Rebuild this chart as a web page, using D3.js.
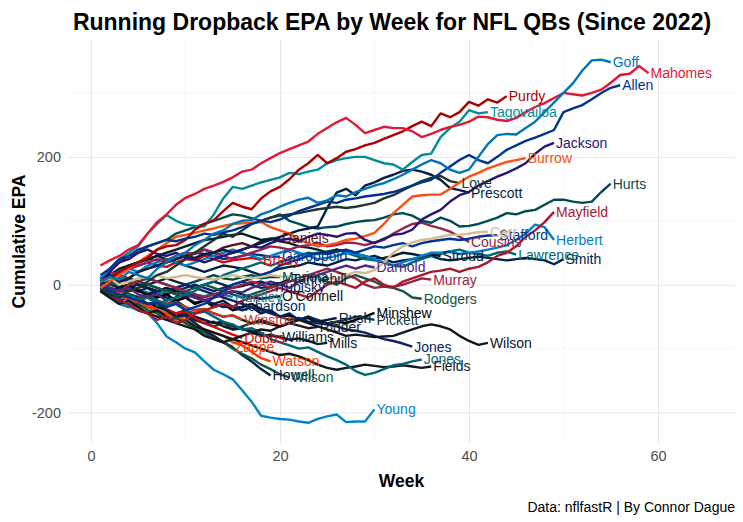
<!DOCTYPE html>
<html>
  <head>
    <title>Running Dropback EPA</title>
    <meta charset="utf-8" />
    <style>
      body { margin: 0; background: #fff; }
      text { font-family: "Liberation Sans", Arial, sans-serif; }
    </style>
  </head>
  <body>
    <div id="chart"></div>
    <script src="https://d3js.org/d3.v7.min.js"></script>
    <script type="text/javascript">
        // cumulative dropback EPA, one value per game played
        const mahomes = [30,38,45,55,62,80,98,110,125,136,142,150,155,161,168,177,180,190,198,206,212,218,224,236,245,254,261,250,237,242,247,245,245,240,231,236,242,247,250,255,263,262,258,256,261,270,278,284,292,300,298,296,300,305,316,328,330,342,331];
        const goff = [5,12,8,20,15,10,25,35,45,50,62,70,80,85,95,100,101,110,115,122,128,133,136,128,132,140,138,145,150,155,159,165,172,180,188,195,190,180,175,180,200,220,234,236,235,245,255,270,285,300,315,335,351,352,348];
        const allen = [15,25,40,45,55,60,65,70,68,72,75,80,78,82,85,90,95,100,98,102,108,115,120,125,130,128,133,135,138,140,142,145,150,155,160,164,175,185,195,203,195,190,200,211,218,225,230,236,242,270,276,281,290,300,308,312];
        const purdy = [5,12,20,28,35,42,55,60,62,70,86,95,101,115,128,122,118,135,146,153,165,180,190,203,190,198,208,212,218,222,228,234,240,248,255,248,268,262,270,286,280,290,285,295];
        const tua = [10,25,40,50,60,80,95,109,100,94,92,91,110,135,153,150,155,160,164,168,175,173,177,180,190,195,198,200,200,195,190,188,180,192,203,205,231,245,255,273,268,270];
        const jackson = [5,20,35,40,50,55,48,45,50,42,40,35,40,45,50,55,60,58,65,70,72,68,75,80,78,75,80,81,70,65,72,78,80,86,102,110,117,130,140,145,155,162,169,175,182,190,205,216,222];
        const burrow = [-5,5,15,25,35,45,55,65,75,78,81,85,88,92,95,96,97,98,90,85,80,70,65,60,62,65,70,72,76,81,95,112,125,138,140,141,141,150,160,169,175,182,187,192,195,198];
        const love = [-5,-15,-20,-10,-5,5,15,20,30,40,50,60,70,80,75,85,95,100,105,108,110,112,115,118,120,122,120,122,125,128,135,140,148,155,162,167,170,162,159];
        const prescott = [10,15,5,10,20,25,30,35,40,45,42,48,50,55,50,55,60,65,70,75,80,85,88,91,120,144,150,140,155,160,167,172,178,180,177,172,164,151,148,144];
        const hurts = [10,25,35,45,50,60,65,70,80,85,90,95,100,105,110,108,104,100,105,110,100,95,90,88,90,91,95,98,100,101,105,110,112,108,100,97,105,100,91,92,95,100,105,112,110,115,117,125,133,133,130,128,130,145,158];
        const mayfield = [-5,-15,-25,-30,-40,-45,-55,-50,-60,-55,-45,-40,-35,-30,-35,-25,-20,-15,-10,-5,-10,-15,-20,-10,0,5,0,-5,5,10,0,-5,5,10,15,20,22,25,20,25,28,35,45,50,60,75,85,98,114];
        const carr = [5,10,0,5,10,12,15,10,12,15,12,10,8,12,15,12,10,12,15,13,12,10,8,10,11,8,15,20,18,23,35,50,60,66,70,72,75,78,78,80,82,83];
        const stafford = [0,-10,-15,-20,-25,-30,-28,-35,-30,-40,-35,-30,-20,-10,0,5,10,15,20,30,35,40,45,50,48,52,55,50,55,60,58,62,65,60,65,68,70,72,70,72,75,77,77];
        const cousins = [10,20,15,25,30,35,40,38,45,50,48,55,50,45,40,45,50,55,60,58,55,60,62,65,60,62,66,65,62,66,70,80,88,95,97,92,88,83,75,67];
        const herbert = [10,15,20,25,20,30,35,40,35,30,35,40,45,50,55,50,45,40,45,50,55,50,45,40,42,45,50,48,45,40,35,30,35,40,45,50,50,52,48,50,52,55,58,62,70,80,94,90,70];
        const stroud = [10,15,25,30,35,40,45,50,55,60,65,70,72,75,78,80,75,70,72,68,65,60,58,55,50,55,52,48,45,40,42,45,50,48,45,47,45];
        const lawrence = [0,-10,-20,-15,-25,-20,-30,-25,-20,-15,-10,0,5,15,20,25,30,35,30,35,40,45,50,48,52,55,50,45,40,38,35,30,28,35,40,45,48,52,55,50,48,45,50,52,47];
        const smith = [5,15,20,30,35,40,45,40,35,30,25,20,25,30,28,25,20,15,20,25,28,30,35,32,30,35,40,38,42,45,40,35,38,40,42,45,40,38,40,42,44,42,40,38,40,42,40,38,32,40];
        const daniels = [5,10,20,30,35,40,38,35,40,45,50,55,50,58,62,65,60,68,72,73];
        const murray = [0,-5,-10,0,5,10,5,0,-5,-10,-15,-20,-15,-10,-5,0,5,0,-5,0,5,10,15,20,25,20,15,10,0,-5,-3,-3,0,5,10,8];
        const darnold = [0,-5,-10,-5,-15,-20,-15,-25,-20,-15,-20,-25,-20,-15,-10,-12,-5,0,5,0,-5,5,10,15,20,25,30,25,30,27];
        const rodgers = [-5,0,5,10,5,0,-5,-10,-15,-10,-5,0,-5,-10,-15,-20,-15,-10,-5,0,5,10,15,10,5,0,10,15,10,5,-3,-5,-10,-20,-22];
        const minshew = [-5,-10,-5,0,-10,-15,-20,-15,-25,-20,-30,-25,-35,-30,-40,-35,-30,-38,-42,-50,-48,-55,-52,-60,-62,-58,-60,-55,-50,-44];
        const pickett = [-5,-15,-25,-20,-30,-35,-40,-45,-50,-45,-55,-60,-65,-60,-70,-65,-60,-55,-60,-65,-60,-55,-50,-55,-60,-58,-55,-50,-52,-55];
        const rush = [0,5,10,5,0,-5,-10,-5,-15,-20,-15,-25,-30,-25,-35,-40,-35,-45,-40,-50,-45,-55,-50,-58,-55,-52];
        const rwilson = [-10,-15,-25,-30,-40,-45,-50,-55,-60,-65,-70,-80,-85,-90,-85,-80,-75,-70,-72,-65,-60,-55,-60,-65,-70,-75,-80,-78,-80,-82,-81,-80,-75,-70,-65,-62,-65,-70,-80,-88,-94,-91];
        const djones = [-5,0,5,10,5,0,-5,-10,-5,0,-5,-10,-15,-20,-25,-30,-35,-40,-45,-50,-55,-52,-58,-60,-62,-65,-70,-72,-75,-80,-85,-88,-92,-97];
        const mjones = [-5,-12,-8,-15,-22,-18,-25,-32,-28,-40,-45,-42,-50,-58,-62,-70,-68,-75,-85,-90,-95,-100,-98,-105,-112,-118,-125,-135,-141,-138,-132,-126,-124,-120,-117];
        const fields = [-10,-20,-30,-25,-35,-45,-40,-50,-60,-55,-65,-70,-75,-80,-85,-90,-95,-100,-105,-110,-108,-112,-118,-125,-130,-133,-130,-128,-125,-127,-129,-128,-126,-128,-130,-128];
        const ridder = [0,-10,-5,-15,-20,-15,-25,-30,-25,-35,-40,-38,-45,-50,-48,-55,-60,-58,-62,-65,-60,-64,-68,-66];
        const mills = [-5,-10,-20,-15,-25,-35,-30,-40,-48,-45,-55,-60,-58,-65,-70,-68,-75,-80,-78,-82,-86,-84,-88,-93,-91];
        const watson = [-10,-20,-15,-25,-35,-30,-40,-45,-55,-50,-60,-70,-75,-80,-90,-95,-105,-115,-120];
        const howell = [0,-10,-5,-15,-20,-30,-28,-40,-50,-48,-60,-72,-80,-90,-98,-110,-120,-132,-142];
        const zwilson = [-10,-20,-30,-35,-30,-40,-45,-55,-52,-60,-68,-75,-85,-90,-100,-108,-115,-125,-132,-140,-145];
        const zappe = [-5,-12,-10,-20,-28,-35,-42,-50,-48,-60,-68,-75,-82,-90,-97];
        const dobbs = [-5,-10,-8,-18,-22,-30,-28,-38,-45,-42,-52,-60,-66,-72,-78,-83];
        const winston = [-5,-12,-8,-15,-20,-18,-25,-30,-28,-35,-40,-38,-45,-50,-48,-55];
        const young = [-10,-20,-28,-34,-40,-44,-60,-81,-90,-100,-106,-120,-133,-140,-148,-165,-183,-205,-208,-210,-211,-214,-216,-210,-206,-203,-215,-214,-214,-195];
        const brady = [5,10,15,10,20,25,30,28,35,40,38,45,40,35,38,40,42,39];
        const garoppolo = [5,10,20,25,30,35,30,35,40,45,50,48,45,40,42,45,48,46,44,44];
        const mariota = [0,5,-5,0,5,10,5,0,-5,0,5,10,15,10,8,12,15,10,12,12];
        const tannehill = [5,0,-5,-10,-5,0,5,10,5,0,-5,0,5,0,-5,-2,2,5,0,2,9];
        const trubisky = [0,-5,-10,-5,0,-5,-10,-15,-10,-5,0,-5,-10,-5,0,5,0,-5,-3];
        const huntley = [0,-5,-10,-5,-8,-12,-15,-10,-8,-12,-15,-18,-14,-16,-19];
        const oconnell = [-5,-10,-5,-15,-20,-15,-10,-5,-10,-15,-20,-25,-20,-15,-10,-15,-20,-22,-20,-18];
        const richardson = [5,10,0,-5,-10,-5,-15,-20,-25,-20,-28,-25,-30,-35,-34];
        const williams = [-5,-10,-20,-15,-25,-30,-35,-40,-45,-40,-50,-55,-60,-58,-65,-70,-72,-78,-80,-82];

        const qbNames = ["Mariota","Tannehill","Trubisky","Huntley","O'Connell","Richardson","Williams","Brady","Garoppolo",
            "Minshew","Pickett","Rush","Ridder","Mills","Zappe","Dobbs","Winston","Watson","Howell","Wilson","Young",
            "Fields","Jones","Jones","Wilson","Rodgers","Murray","Darnold","Daniels",
            "Smith","Lawrence","Stroud","Herbert","Cousins","Stafford","Carr","Mayfield","Hurts",
            "Prescott","Love","Burrow","Jackson","Tagovailoa","Purdy","Allen","Mahomes","Goff"];
        const qbColors = ["#004C54","#0C2340","#0B2265","#0E7EA5","#111111","#002C5F","#0B162A","#D50A0A","#003594",
            "#000000","#1D3A4A","#041E42","#1B1B1B","#03202F","#FF3C00","#D50A0A","#D5361A","#FF3C00","#002244","#125740","#0085CA",
            "#101820","#0B2265","#006778","#101820","#125740","#97233F","#4F2683","#5A1414",
            "#002244","#006778","#03202F","#0080C6","#97234F","#003594","#D3BC8D","#A71930","#004C54",
            "#041E42","#203731","#FB4F14","#241773","#008E97","#AA0000","#00338D","#E31837","#0076B6"];
        const qbValues = [mariota, tannehill, trubisky, huntley, oconnell, richardson, williams, brady, garoppolo,
            minshew, pickett, rush, ridder, mills, zappe, dobbs, winston, watson, howell, zwilson, young,
            fields, djones, mjones, rwilson, rodgers, murray, darnold, daniels,
            smith, lawrence, stroud, herbert, cousins, stafford, carr, mayfield, hurts,
            prescott, love, burrow, jackson, tua, purdy, allen, mahomes, goff];

        const xTicks = [0, 20, 40, 60];
        const xMinor = [10, 30, 50];
        const yTicks = [-200, 0, 200];
        const yMinor = [-100, 100, 300];

        const width = 743;
        const height = 522;
        const panel = {left: 68, right: 735, top: 40, bottom: 443};

        const series = qbNames.map((name, i) => ({
            name,
            color: qbColors[i],
            values: qbValues[i].map((v, j) => ({week: j + 1, epa: v}))
        }));

        const x = d3.scaleLinear().domain([-2.43, 68.15]).range([panel.left, panel.right]);
        const y = d3.scaleLinear().domain([-247.6, 382.8]).range([panel.bottom, panel.top]);

        const svg = d3.select("#chart").append("svg")
            .attr("width", width)
            .attr("height", height);

        // grid
        const grid = svg.append("g");
        grid.selectAll(".xminor").data(xMinor).join("line")
            .attr("x1", d => x(d)).attr("x2", d => x(d))
            .attr("y1", panel.top).attr("y2", panel.bottom)
            .attr("stroke", "#f0f0f0").attr("stroke-width", 0.6);
        grid.selectAll(".yminor").data(yMinor).join("line")
            .attr("y1", d => y(d)).attr("y2", d => y(d))
            .attr("x1", panel.left).attr("x2", panel.right)
            .attr("stroke", "#f0f0f0").attr("stroke-width", 0.6);

        const xAxis = g => g
            .attr("transform", `translate(0,${panel.bottom})`)
            .call(d3.axisBottom(x).tickValues(xTicks).tickSize(-(panel.bottom - panel.top)).tickPadding(8))
            .call(g => g.select(".domain").remove())
            .call(g => g.selectAll(".tick line").attr("stroke", "#e6e6e6"))
            .call(g => g.selectAll(".tick text").attr("fill", "#4d4d4d").attr("font-size", 14.5)
                .attr("font-family", "Liberation Sans, Arial, sans-serif"));

        const yAxis = g => g
            .attr("transform", `translate(${panel.left},0)`)
            .call(d3.axisLeft(y).tickValues(yTicks).tickFormat(d => String(d))
                .tickSize(-(panel.right - panel.left)).tickPadding(7))
            .call(g => g.select(".domain").remove())
            .call(g => g.selectAll(".tick line").attr("stroke", "#e6e6e6"))
            .call(g => g.selectAll(".tick text").attr("fill", "#4d4d4d").attr("font-size", 14.5)
                .attr("font-family", "Liberation Sans, Arial, sans-serif"));

        svg.append("g").call(xAxis);
        svg.append("g").call(yAxis);

        const line = d3.line()
            .x(d => x(d.week))
            .y(d => y(d.epa));

        svg.append("g")
            .attr("fill", "none")
            .attr("stroke-width", 2.4)
            .attr("stroke-linejoin", "round")
            .selectAll("path")
            .data(series)
            .join("path")
            .attr("stroke", d => d.color)
            .attr("d", d => line(d.values));

        svg.append("g")
            .attr("font-size", 14)
            .selectAll("text")
            .data(series)
            .join("text")
            .attr("x", d => x(d.values[d.values.length - 1].week) + 2)
            .attr("y", d => y(d.values[d.values.length - 1].epa))
            .attr("dy", "0.35em")
            .attr("fill", d => d.color)
            .text(d => d.name);

        svg.append("text")
            .attr("x", 392)
            .attr("y", 30)
            .attr("text-anchor", "middle")
            .attr("font-size", 23)
            .attr("font-weight", "bold")
            .text("Running Dropback EPA by Week for NFL QBs (Since 2022)");

        svg.append("text")
            .attr("x", (panel.left + panel.right) / 2)
            .attr("y", 487)
            .attr("text-anchor", "middle")
            .attr("font-size", 17.5)
            .attr("font-weight", "bold")
            .text("Week");

        svg.append("text")
            .attr("transform", `translate(25,${(panel.top + panel.bottom) / 2}) rotate(-90)`)
            .attr("text-anchor", "middle")
            .attr("font-size", 17.5)
            .attr("font-weight", "bold")
            .text("Cumulative EPA");

        svg.append("text")
            .attr("x", 735)
            .attr("y", 512)
            .attr("text-anchor", "end")
            .attr("font-size", 14)
            .text("Data: nflfastR | By Connor Dague");
    </script>
  </body>
</html>
